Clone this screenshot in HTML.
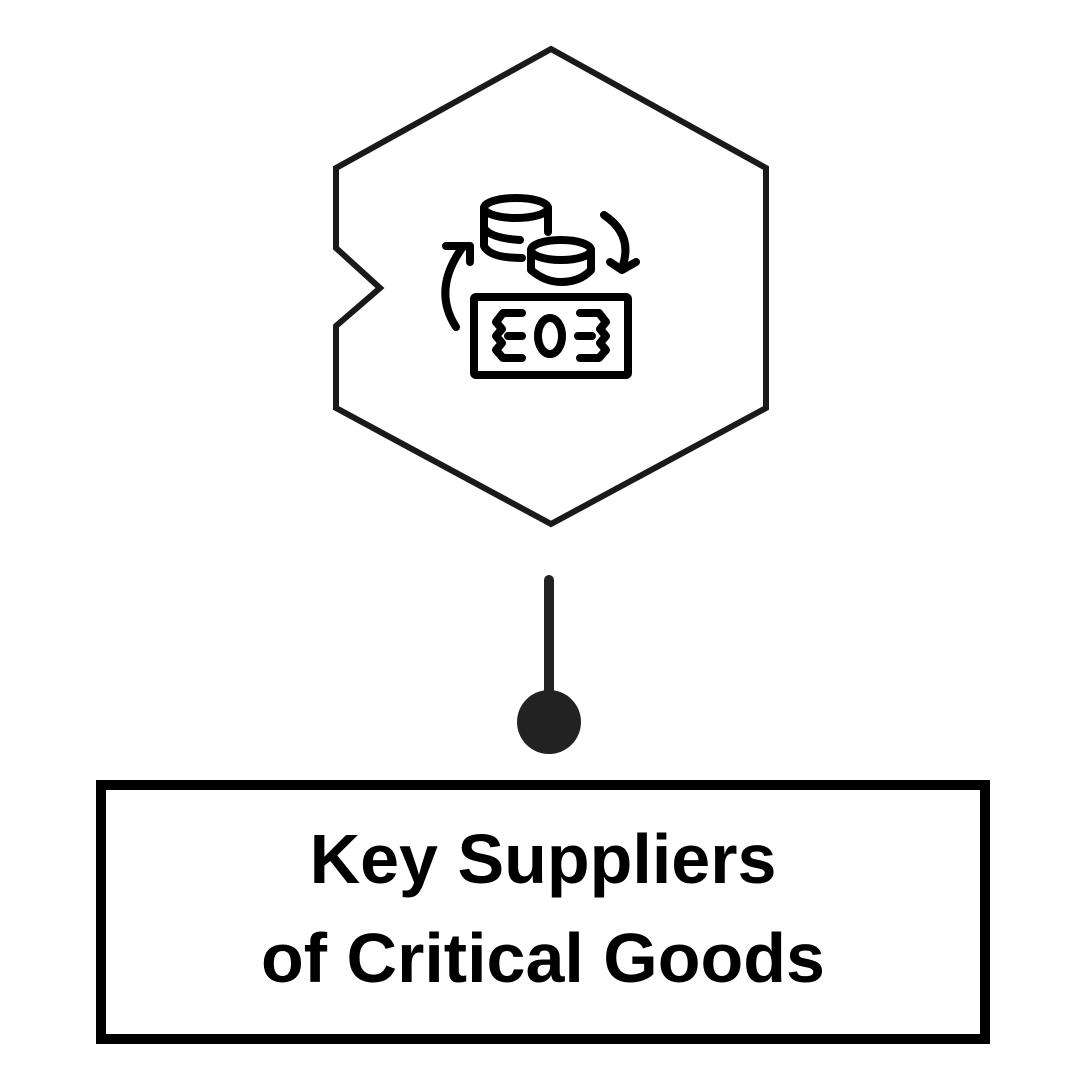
<!DOCTYPE html>
<html><head><style>
body{margin:0;background:#fff;width:1080px;height:1080px;overflow:hidden;position:relative}
.t{position:absolute;left:100px;width:886px;text-align:center;font-family:"Liberation Sans",sans-serif;font-weight:bold;font-size:70px;line-height:70px;color:#000}
</style></head><body>
<svg width="1080" height="1080" style="position:absolute;left:0;top:0">
<polygon points="551,49 766,168 766,408 551,524 336,408 336,326 380,288 336,248 336,168" fill="none" stroke="#1a1a1a" stroke-width="6" stroke-linejoin="miter"/>
<g fill="none" stroke="#000" stroke-width="8" stroke-linecap="round" stroke-linejoin="round">
<ellipse cx="516" cy="208" rx="32" ry="10"/>
<path d="M484 208 V246 Q490 258 522 258"/>
<path d="M548 208 V232"/>
<path d="M484 228 Q490 238 520 240"/>
<ellipse cx="561" cy="250" rx="30" ry="10"/>
<path d="M531 250 V270 Q545 282 561 282 Q580 282 591 270 V250"/>
<rect x="474" y="297" width="154" height="78" rx="2"/>
<path d="M522 313 H503 L496 322 L502 329 L496 336 L502 343 L496 350 L503 358 H522"/>
<path d="M580 313 H599 L606 322 L600 329 L606 336 L600 343 L606 350 L599 358 H580"/>
<ellipse cx="550" cy="336" rx="12" ry="18"/>
<path d="M508 336 H522 M578 336 H592"/>
<path d="M456 327 Q432 290 462 248 M446 246 H470 V262"/>
<path d="M604 215 Q634 235 622 268 M610 262 L622 270 L636 262"/>
</g>
<line x1="549" y1="580" x2="549" y2="700" stroke="#222" stroke-width="10" stroke-linecap="round"/>
<circle cx="549" cy="722" r="32" fill="#222"/>
<rect x="101" y="785" width="884" height="254" fill="none" stroke="#000" stroke-width="10"/>
</svg>
<div class="t" style="top:824px">Key Suppliers</div>
<div class="t" style="top:923px">of Critical Goods</div>
</body></html>
